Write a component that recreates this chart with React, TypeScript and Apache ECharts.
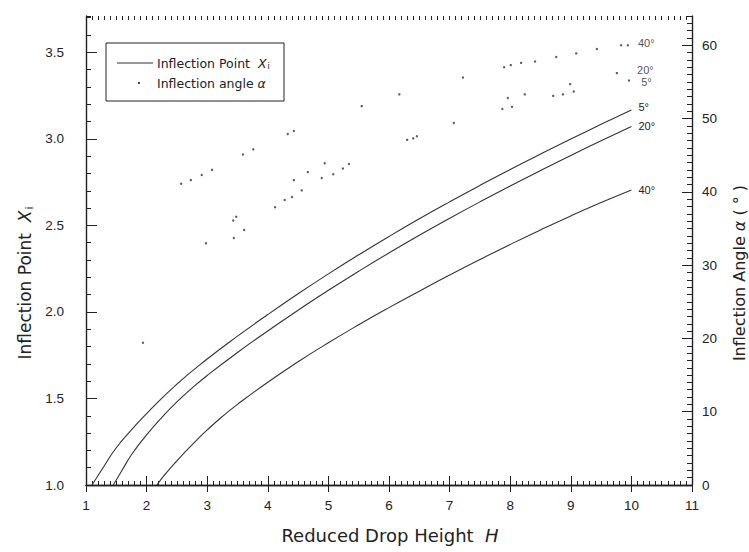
import React, { useEffect, useRef } from "react";
import * as echarts from "echarts";

// Inflection point X_i against reduced drop height H, one curve per contact angle
const H_XI_5 = [1.1, 1.3, 1.5, 1.75, 2, 2.5, 3, 3.5, 4, 4.5, 5, 5.5, 6, 6.5, 7, 7.5, 8, 8.5, 9, 9.5, 10];
const XI_5 = [1.0, 1.11, 1.215, 1.318, 1.413, 1.583, 1.728, 1.86, 1.985, 2.105, 2.22, 2.33, 2.436, 2.538, 2.636, 2.731, 2.823, 2.912, 2.999, 3.084, 3.167];

const H_XI_20 = [1.45, 1.6, 1.75, 2, 2.25, 2.5, 2.75, 3, 3.5, 4, 4.5, 5, 5.5, 6, 6.5, 7, 7.5, 8, 8.5, 9, 9.5, 10];
const XI_20 = [1.0, 1.088, 1.175, 1.29, 1.39, 1.48, 1.56, 1.633, 1.766, 1.89, 2.01, 2.125, 2.235, 2.341, 2.443, 2.541, 2.636, 2.728, 2.817, 2.904, 2.989, 3.072];

const H_XI_40 = [2.17, 2.3, 2.5, 2.75, 3, 3.25, 3.5, 4, 4.5, 5, 5.5, 6, 6.5, 7, 7.5, 8, 8.5, 9, 9.5, 10];
const XI_40 = [1.0, 1.06, 1.14, 1.232, 1.318, 1.396, 1.466, 1.594, 1.712, 1.822, 1.926, 2.025, 2.12, 2.213, 2.303, 2.39, 2.474, 2.555, 2.632, 2.705];

// Inflection angle alpha (degrees) against H, sampled points
const H_A_5 = [1.94, 3.44, 3.61, 4.12, 4.28, 4.40, 4.56, 4.89, 5.08, 5.24, 5.34, 6.30, 6.40, 6.46, 7.07, 7.87, 8.03, 8.71, 8.87, 9.05, 9.96];
const A_5 = [19.4, 33.7, 34.8, 37.9, 38.9, 39.3, 40.2, 41.9, 42.4, 43.2, 43.8, 47.1, 47.3, 47.6, 49.4, 51.3, 51.6, 53.1, 53.3, 53.7, 55.2];

const H_A_20 = [2.98, 3.43, 3.48, 4.43, 4.66, 4.94, 7.96, 8.24, 8.99, 9.76];
const A_20 = [33.0, 36.1, 36.6, 41.6, 42.7, 43.9, 52.8, 53.3, 54.7, 56.2];

const H_A_40 = [2.57, 2.73, 2.91, 3.08, 3.59, 3.76, 4.33, 4.43, 5.55, 6.17, 7.22, 7.90, 8.01, 8.18, 8.41, 8.76, 9.09, 9.43, 9.83, 9.94];
const A_40 = [41.1, 41.6, 42.3, 43.0, 45.1, 45.8, 47.9, 48.3, 51.7, 53.3, 55.6, 57.0, 57.3, 57.6, 57.8, 58.4, 58.9, 59.5, 60.0, 60.0];

const X_MIN = 1;
const X_MAX = 11;
const XI_MIN = 1;
const XI_MAX = 3.71;
const A_MIN = 0;
const A_MAX = 64;

const FONT = "Liberation Sans, Arial, Helvetica, sans-serif";
const TITLE_FONT = "DejaVu Sans, Liberation Sans, sans-serif";
const INK = "#222";
const MARK = "#333";

const pairs = (xs: number[], ys: number[]) => xs.map((x, i) => [x, ys[i]]);

function lineSeries(name: string, hs: number[], xs: number[], tag: string, dy: number) {
  return {
    type: "line",
    name,
    xAxisIndex: 0,
    yAxisIndex: 0,
    data: pairs(hs, xs),
    symbol: "none",
    showSymbol: false,
    smooth: 0.5,
    silent: true,
    lineStyle: { color: MARK, width: 1.1 },
    endLabel: {
      show: true,
      formatter: tag,
      color: INK,
      fontFamily: FONT,
      fontSize: 11,
      distance: 7,
      offset: [0, dy],
    },
  };
}

function dotSeries(name: string, hs: number[], as: number[], tag: string, distance: number, dy: number) {
  const data = hs.map((h, i) =>
    i === hs.length - 1
      ? {
          value: [h, as[i]],
          label: {
            show: true,
            formatter: tag,
            position: "right",
            distance,
            offset: [0, dy],
            color: INK,
            fontFamily: FONT,
            fontSize: 11,
          },
        }
      : [h, as[i]]
  );
  return {
    type: "scatter",
    name,
    xAxisIndex: 0,
    yAxisIndex: 1,
    symbol: "circle",
    symbolSize: 2.4,
    silent: true,
    itemStyle: { color: MARK },
    data,
  };
}

const frameLine = { show: true, lineStyle: { color: INK, width: 1.4 } };
const hidden = { show: false };

function overlayAxis(extra: any, length: number) {
  return {
    type: "value",
    axisLine: hidden,
    axisLabel: hidden,
    splitLine: hidden,
    axisTick: { show: true, inside: true, length, lineStyle: { color: INK, width: 1 } },
    ...extra,
  };
}

const richParts = (size: number, family: string) => ({
  it: { fontStyle: "italic", fontSize: size, fontFamily: family, fill: INK, textFill: INK },
  sub: { fontSize: size * 0.65, fontFamily: family, fill: INK, textFill: INK, padding: [size * 0.55, 0, 0, 1] },
});

function label(x: number, y: number, text: string, size: number, family: string, rotation = 0, align = "center") {
  return {
    type: "text",
    x,
    y,
    rotation,
    z: 20,
    style: {
      text,
      fontSize: size,
      fontFamily: family,
      fill: INK,
      textFill: INK,
      align,
      textAlign: align,
      verticalAlign: "middle",
      textVerticalAlign: "middle",
      rich: richParts(size, family),
    },
  };
}

export default function App() {
  const ref = useRef<HTMLDivElement>(null);

  useEffect(() => {
    if (!ref.current) return;
    const chart = echarts.init(ref.current, null, { renderer: "svg" });

    const option: any = {
      animation: false,
      backgroundColor: "#fff",
      grid: { left: 86, right: 57, top: 16, bottom: 67, containLabel: false },
      xAxis: [
        {
          type: "value",
          position: "bottom",
          min: X_MIN,
          max: X_MAX,
          interval: 1,
          axisLine: frameLine,
          axisTick: { show: true, inside: true, length: 9, lineStyle: { color: INK, width: 1 } },
          axisLabel: { color: INK, fontFamily: FONT, fontSize: 13.5, margin: 13 },
          splitLine: hidden,
        },
        {
          type: "value",
          position: "top",
          min: X_MIN,
          max: X_MAX,
          interval: 1,
          axisLine: frameLine,
          axisTick: { show: true, inside: true, length: 7, lineStyle: { color: INK, width: 1 } },
          axisLabel: hidden,
          splitLine: hidden,
        },
        overlayAxis({ position: "bottom", min: X_MIN, max: X_MAX, interval: 0.1 }, 4),
        overlayAxis({ position: "top", min: X_MIN, max: X_MAX, interval: 0.1 }, 4),
      ],
      yAxis: [
        {
          type: "value",
          position: "left",
          min: XI_MIN,
          max: XI_MAX,
          interval: 0.5,
          axisLine: frameLine,
          axisTick: { show: true, inside: true, length: 11, lineStyle: { color: INK, width: 1 } },
          axisLabel: {
            color: INK,
            fontFamily: FONT,
            fontSize: 13.5,
            margin: 22,
            showMaxLabel: false,
            formatter: (v: number) => v.toFixed(1),
          },
          splitLine: hidden,
        },
        {
          type: "value",
          position: "right",
          min: A_MIN,
          max: A_MAX,
          interval: 10,
          axisLine: frameLine,
          axisTick: { show: true, inside: true, length: 10, lineStyle: { color: INK, width: 1 } },
          axisLabel: { color: INK, fontFamily: FONT, fontSize: 13.5, margin: 10, showMaxLabel: false },
          splitLine: hidden,
        },
        overlayAxis({ position: "left", min: XI_MIN, max: XI_MAX, interval: 0.1 }, 5),
        overlayAxis({ position: "right", min: A_MIN, max: A_MAX, interval: 1 }, 5),
      ],
      series: [
        lineSeries("Inflection Point 5°", H_XI_5, XI_5, "5°", -3),
        lineSeries("Inflection Point 20°", H_XI_20, XI_20, "20°", 0),
        lineSeries("Inflection Point 40°", H_XI_40, XI_40, "40°", 0),
        dotSeries("Inflection angle 5°", H_A_5, A_5, "5°", 11, 2),
        dotSeries("Inflection angle 20°", H_A_20, A_20, "20°", 19, -3),
        dotSeries("Inflection angle 40°", H_A_40, A_40, "40°", 9, -2),
      ],
      graphic: [
        // axis titles
        label(25, 283, "Inflection Point  {it|X}{sub|i}", 17, TITLE_FONT, Math.PI / 2),
        label(739, 273, "Inflection Angle {it|α} ( ° )", 16, TITLE_FONT, Math.PI / 2),
        label(390, 535, "Reduced Drop Height  {it|H}", 18, TITLE_FONT),
        // legend box
        {
          type: "rect",
          z: 10,
          shape: { x: 106, y: 43, width: 178, height: 58 },
          style: { fill: "#fff", stroke: INK, lineWidth: 1 },
        },
        {
          type: "line",
          z: 11,
          shape: { x1: 117, y1: 63, x2: 153, y2: 63 },
          style: { stroke: MARK, lineWidth: 1.1 },
        },
        {
          type: "circle",
          z: 11,
          shape: { cx: 139, cy: 83, r: 1.1 },
          style: { fill: MARK },
        },
        label(157, 63, "Inflection Point  {it|X}{sub|i}", 12.5, TITLE_FONT, 0, "left"),
        label(157, 83, "Inflection angle {it|α}", 12.5, TITLE_FONT, 0, "left"),
      ],
    };

    chart.setOption(option);
    return () => chart.dispose();
  }, []);

  return (
    <div
      ref={ref}
      style={{ position: "absolute", left: 0, top: 0, width: 749, height: 552, background: "#fff" }}
    />
  );
}
